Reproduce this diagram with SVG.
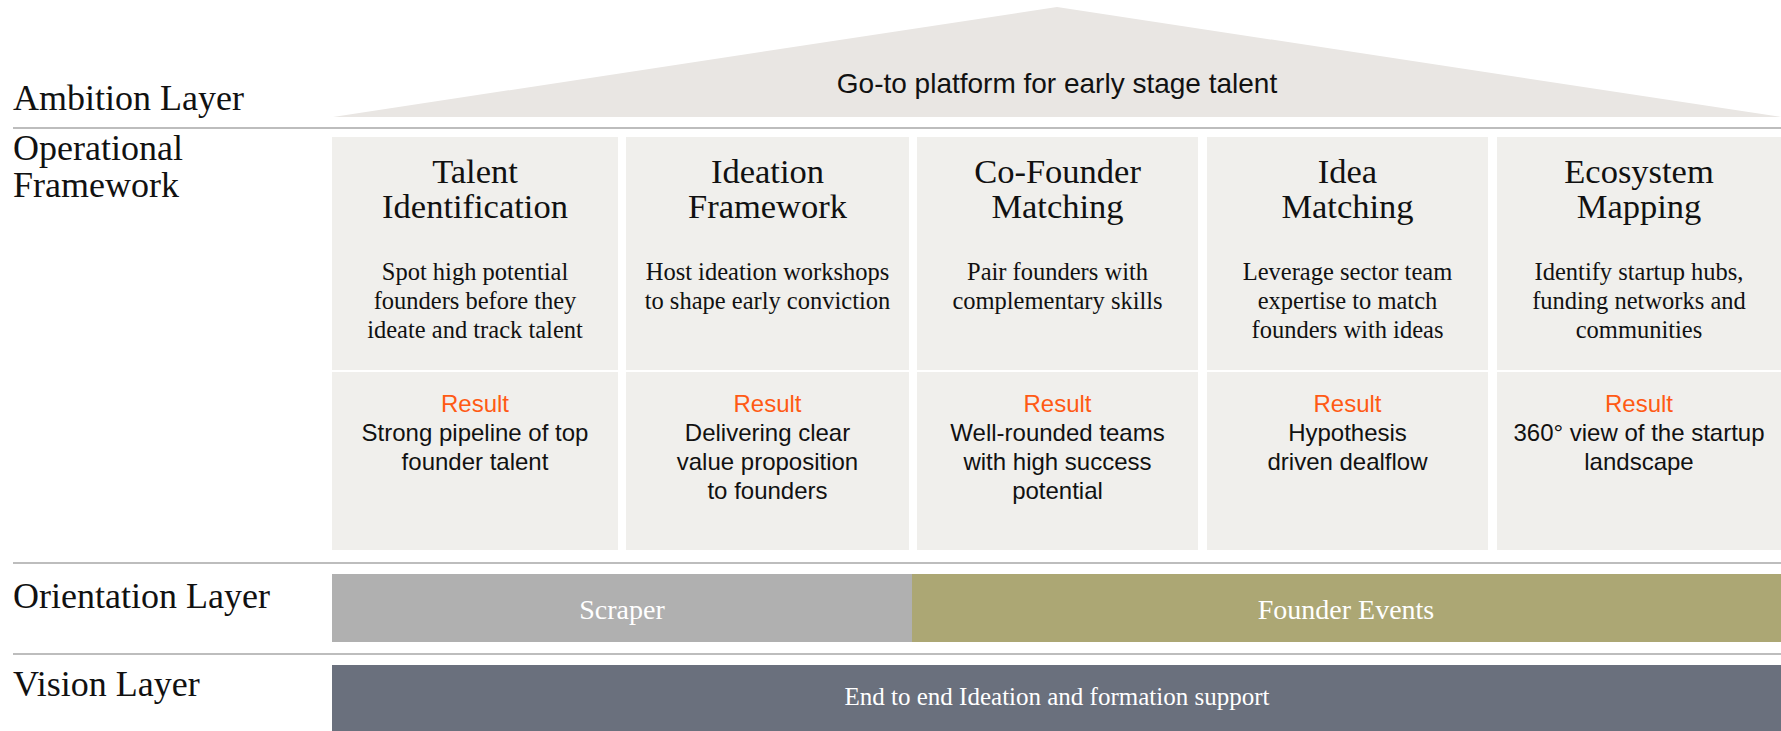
<svg xmlns="http://www.w3.org/2000/svg" width="1781" height="731" viewBox="0 0 1781 731">
<style>
.lbl{font-family:"Liberation Serif",serif;font-size:36px;fill:#111}
.ttl{font-family:"Liberation Serif",serif;font-size:34.5px;fill:#111;text-anchor:middle}
.dsc{font-family:"Liberation Serif",serif;font-size:24.5px;fill:#111;text-anchor:middle}
.res{font-family:"Liberation Sans",Arial,sans-serif;font-size:24px;fill:#ff5a14;text-anchor:middle}
.rtx{font-family:"Liberation Sans",Arial,sans-serif;font-size:24px;fill:#111;text-anchor:middle}
.box{fill:#f0efec}
.sep{stroke:#bdbdbd;stroke-width:2}
.div{stroke:#ffffff;stroke-width:2}
.bar{font-family:"Liberation Serif",serif;fill:#fff;text-anchor:middle}
</style>
<rect width="1781" height="731" fill="#fff"/>
<g id="ambition">
<polygon points="333,117 1057,7 1781,117" fill="#e9e6e3"/>
<text x="1057" y="93" font-family="Liberation Sans, Arial, sans-serif" font-size="28" fill="#111" text-anchor="middle">Go-to platform for early stage talent</text>
</g>
<g id="separators">
<line class="sep" x1="13" y1="128" x2="1781" y2="128"/>
<line class="sep" x1="13" y1="563" x2="1781" y2="563"/>
<line class="sep" x1="13" y1="654" x2="1781" y2="654"/>
</g>
<g id="layer-labels">
<text class="lbl" x="13" y="110">Ambition Layer</text>
<text class="lbl" x="13" y="160">Operational</text>
<text class="lbl" x="13" y="197">Framework</text>
<text class="lbl" x="13" y="608">Orientation Layer</text>
<text class="lbl" x="13" y="696">Vision Layer</text>
</g>
<g id="col-talent">
<rect class="box" x="332" y="137" width="286" height="413"/>
<line class="div" x1="332" y1="371" x2="618" y2="371"/>
<text class="ttl" x="475" y="183">Talent</text>
<text class="ttl" x="475" y="218">Identification</text>
<text class="dsc" x="475" y="280">Spot high potential</text>
<text class="dsc" x="475" y="309">founders before they</text>
<text class="dsc" x="475" y="338">ideate and track talent</text>
<text class="res" x="475" y="412">Result</text>
<text class="rtx" x="475" y="441">Strong pipeline of top</text>
<text class="rtx" x="475" y="470">founder talent</text>
</g>
<g id="col-ideation">
<rect class="box" x="626" y="137" width="283" height="413"/>
<line class="div" x1="626" y1="371" x2="909" y2="371"/>
<text class="ttl" x="767.5" y="183">Ideation</text>
<text class="ttl" x="767.5" y="218">Framework</text>
<text class="dsc" x="767.5" y="280">Host ideation workshops</text>
<text class="dsc" x="767.5" y="309">to shape early conviction</text>
<text class="res" x="767.5" y="412">Result</text>
<text class="rtx" x="767.5" y="441">Delivering clear</text>
<text class="rtx" x="767.5" y="470">value proposition</text>
<text class="rtx" x="767.5" y="499">to founders</text>
</g>
<g id="col-cofounder">
<rect class="box" x="917" y="137" width="281" height="413"/>
<line class="div" x1="917" y1="371" x2="1198" y2="371"/>
<text class="ttl" x="1057.5" y="183">Co-Founder</text>
<text class="ttl" x="1057.5" y="218">Matching</text>
<text class="dsc" x="1057.5" y="280">Pair founders with</text>
<text class="dsc" x="1057.5" y="309">complementary skills</text>
<text class="res" x="1057.5" y="412">Result</text>
<text class="rtx" x="1057.5" y="441">Well-rounded teams</text>
<text class="rtx" x="1057.5" y="470">with high success</text>
<text class="rtx" x="1057.5" y="499">potential</text>
</g>
<g id="col-idea">
<rect class="box" x="1207" y="137" width="281" height="413"/>
<line class="div" x1="1207" y1="371" x2="1488" y2="371"/>
<text class="ttl" x="1347.5" y="183">Idea</text>
<text class="ttl" x="1347.5" y="218">Matching</text>
<text class="dsc" x="1347.5" y="280">Leverage sector team</text>
<text class="dsc" x="1347.5" y="309">expertise to match</text>
<text class="dsc" x="1347.5" y="338">founders with ideas</text>
<text class="res" x="1347.5" y="412">Result</text>
<text class="rtx" x="1347.5" y="441">Hypothesis</text>
<text class="rtx" x="1347.5" y="470">driven dealflow</text>
</g>
<g id="col-ecosystem">
<rect class="box" x="1497" y="137" width="284" height="413"/>
<line class="div" x1="1497" y1="371" x2="1781" y2="371"/>
<text class="ttl" x="1639" y="183">Ecosystem</text>
<text class="ttl" x="1639" y="218">Mapping</text>
<text class="dsc" x="1639" y="280">Identify startup hubs,</text>
<text class="dsc" x="1639" y="309">funding networks and</text>
<text class="dsc" x="1639" y="338">communities</text>
<text class="res" x="1639" y="412">Result</text>
<text class="rtx" x="1639" y="441">360° view of the startup</text>
<text class="rtx" x="1639" y="470">landscape</text>
</g>
<g id="scraper">
<rect x="332" y="574" width="580" height="68" fill="#b0b0b0"/>
<text class="bar" x="622" y="619" font-size="28">Scraper</text>
</g>
<g id="founder-events">
<rect x="912" y="574" width="869" height="68" fill="#aca774"/>
<text class="bar" x="1346" y="619" font-size="28">Founder Events</text>
</g>
<g id="vision">
<rect x="332" y="665" width="1449" height="66" fill="#6a707d"/>
<text class="bar" x="1057" y="705" font-size="25">End to end Ideation and formation support</text>
</g>
</svg>
